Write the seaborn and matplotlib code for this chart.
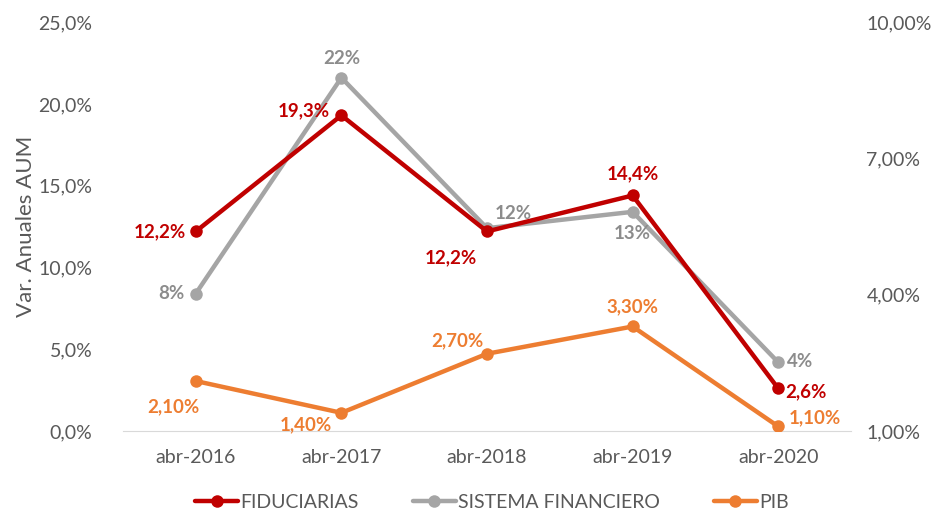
import matplotlib.pyplot as plt
import numpy as np
import pandas as pd
import seaborn as sns
from matplotlib.ticker import FuncFormatter

periods = ["abr-2016", "abr-2017", "abr-2018", "abr-2019", "abr-2020"]
fiduciarias = [12.2, 19.3, 12.2, 14.4, 2.6]
sistema = [8.4, 21.6, 12.4, 13.4, 4.2]
sistema_labels = ["8%", "22%", "12%", "13%", "4%"]
pib = [2.10, 1.40, 2.70, 3.30, 1.10]

RED = "#C00000"
GRAY = "#A5A5A5"
ORANGE = "#ED7D31"
TXT = "#595959"

sns.set_style("white")
plt.rcParams["font.family"] = ["Lato", "DejaVu Sans"]

df = pd.DataFrame({"Periodo": periods, "FIDUCIARIAS": fiduciarias,
                   "SISTEMA FINANCIERO": sistema, "PIB": pib})
df["x"] = np.arange(len(periods))

fig = plt.figure(figsize=(9.46, 5.14), dpi=100)
ax = fig.add_axes([0.130, 0.1615, 0.7696, 0.7955])
ax2 = ax.twinx()

style = dict(linewidth=3.2, marker="o", markersize=9, markeredgewidth=0)
sns.lineplot(data=df, x="x", y="FIDUCIARIAS", color=RED, ax=ax, label="FIDUCIARIAS", zorder=4, **style)
sns.lineplot(data=df, x="x", y="SISTEMA FINANCIERO", color=GRAY, ax=ax, label="SISTEMA FINANCIERO", zorder=3, **style)
sns.lineplot(data=df, x="x", y="PIB", color=ORANGE, ax=ax2, label="PIB", zorder=3, **style)

ax.set_xlim(-0.5, 4.5)
ax.set_ylim(0, 25)
ax2.set_ylim(1, 10)
ax.set_yticks([0, 5, 10, 15, 20, 25])
ax2.set_yticks([1, 4, 7, 10])
ax.yaxis.set_major_formatter(FuncFormatter(lambda v, p: f"{v:.1f}%".replace(".", ",")))
ax2.yaxis.set_major_formatter(FuncFormatter(lambda v, p: f"{v:.2f}%".replace(".", ",")))

FS = 14
ax.set_xticks(df["x"])
ax.set_xticklabels(periods)
ax.set_xticks(np.arange(-0.5, 5, 1), minor=True)
ax.tick_params(axis="x", which="major", length=0, pad=13, labelsize=FS, labelcolor=TXT)
ax.tick_params(axis="x", which="minor", length=6, color="#D9D9D9", width=1)
ax.tick_params(axis="y", length=0, pad=22, labelsize=FS, labelcolor=TXT)
ax2.tick_params(axis="y", length=0, pad=11, labelsize=FS, labelcolor=TXT)

for a in (ax, ax2):
    for s in a.spines.values():
        s.set_visible(False)
ax.spines["bottom"].set_visible(True)
ax.spines["bottom"].set_color("#D9D9D9")
ax.grid(False)
ax2.grid(False)
ax.set_xlabel("")
ax.set_ylabel("Var. Anuales AUM", fontsize=16, color=TXT, labelpad=2)
ax2.set_ylabel("")

# data labels: offsets in pixels
fid_off = [(-36, 0), (-38, 5), (-36, -26), (0, 22), (28, -3)]
sis_off = [(-24, 0), (0, 19), (26, 15), (0, -22), (22, 1)]
pib_off = [(-22, -26), (-36, -12), (-30, 13), (0, 20), (37, 9)]

lab = dict(textcoords="offset pixels", ha="center", va="center",
           fontsize=13.5, fontweight="bold")
for i in range(len(periods)):
    ax.annotate(f"{fiduciarias[i]:.1f}%".replace(".", ","), (i, fiduciarias[i]),
                xytext=fid_off[i], color=RED, **lab)
    ax.annotate(sistema_labels[i], (i, sistema[i]), xytext=sis_off[i], color="#8C8C8C", **lab)
    ax2.annotate(f"{pib[i]:.2f}%".replace(".", ","), (i, pib[i]),
                 xytext=pib_off[i], color=ORANGE, **lab)

h1, l1 = ax.get_legend_handles_labels()
h2, l2 = ax2.get_legend_handles_labels()
ax.get_legend().remove()
ax2.get_legend().remove()
fig.legend(h1 + h2, l1 + l2, loc="center", bbox_to_anchor=(0.52, 0.022), ncol=3,
           frameon=False, fontsize=FS, labelcolor=TXT, handlelength=2.2,
           handletextpad=0.1, columnspacing=2.8)

fig.savefig("out.png", dpi=100)
